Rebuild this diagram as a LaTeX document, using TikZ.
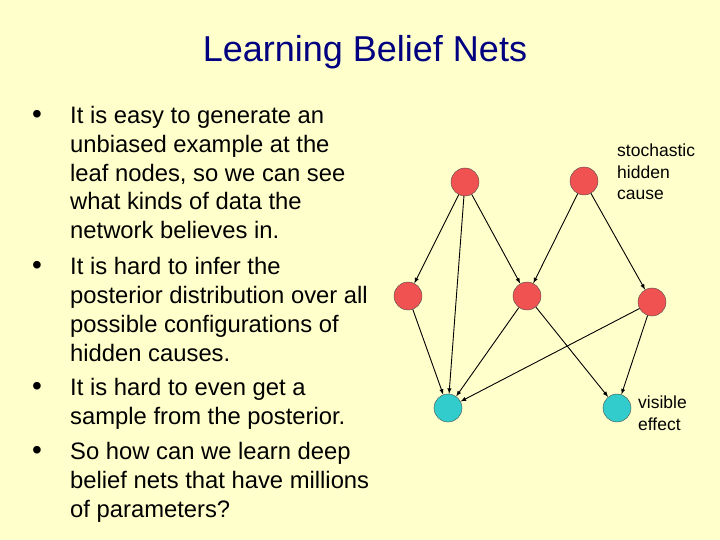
\documentclass[tikz,border=0pt]{standalone}
\usepackage{fontspec}
\setmainfont{Liberation Sans}
\definecolor{bg}{RGB}{255,255,204}
\definecolor{hidred}{RGB}{240,82,82}
\definecolor{viscyan}{RGB}{51,204,204}
\definecolor{navy}{RGB}{0,0,128}
\begin{document}
\begin{tikzpicture}[x=1pt,y=-1pt,
  hid/.style={circle,draw=black!70,fill=hidred,minimum size=28pt,inner sep=0pt,line width=0.4pt},
  vis/.style={circle,draw=black!70,fill=viscyan,minimum size=28pt,inner sep=0pt,line width=0.4pt},
  edge/.style={-latex,line width=0.9pt},
  line/.style={anchor=base west,inner sep=0pt,font=\fontsize{23.8}{28}\selectfont},
  lbl/.style={anchor=north west,inner sep=0pt,align=left,font=\fontsize{17.5}{21.5}\selectfont}]
\fill[bg] (0,0) rectangle (720,540);
\useasboundingbox (0,0) rectangle (720,540);
\node[font=\fontsize{36}{40}\selectfont,text=navy] (title) at (365,52) {Learning Belief Nets};
\foreach \t/\y [count=\i] in {It is easy to generate an/124,unbiased example at the/153,{leaf nodes, so we can see}/182,what kinds of data the/210,network believes in./239,It is hard to infer the/274,posterior distribution over all/303,possible configurations of/332,hidden causes./361,It is hard to even get  a/395,sample from the posterior./424,So how can we learn deep/459,belief nets that have millions/488,of parameters?/517}
  \node[line] (l\i) at (70,\y) {\t};
\foreach \y [count=\i] in {124,274,395,459}
  \node[line,anchor=base,font=\fontsize{28}{28}\selectfont] (b\i) at (37,\y) {•};
\node[hid] (t1) at (465,182) {};
\node[hid] (t2) at (584,181) {};
\node[hid] (m1) at (408,296) {};
\node[hid] (m2) at (527,296) {};
\node[hid] (m3) at (652,302) {};
\node[vis] (v1) at (448,408) {};
\node[vis] (v2) at (617,408) {};
\draw[edge] (t1) -- (m1);
\draw[edge] (t1) -- (v1);
\draw[edge] (t1) -- (m2);
\draw[edge] (t2) -- (m2);
\draw[edge] (t2) -- (m3);
\draw[edge] (m1) -- (v1);
\draw[edge] (m2) -- (v1);
\draw[edge] (m2) -- (v2);
\draw[edge] (m3) -- (v1);
\draw[edge] (m3) -- (v2);
\node[lbl] (sh) at (617,144) {stochastic\\hidden\\cause};
\node[lbl] (ve) at (638,396) {visible\\effect};
\end{tikzpicture}
\end{document}
